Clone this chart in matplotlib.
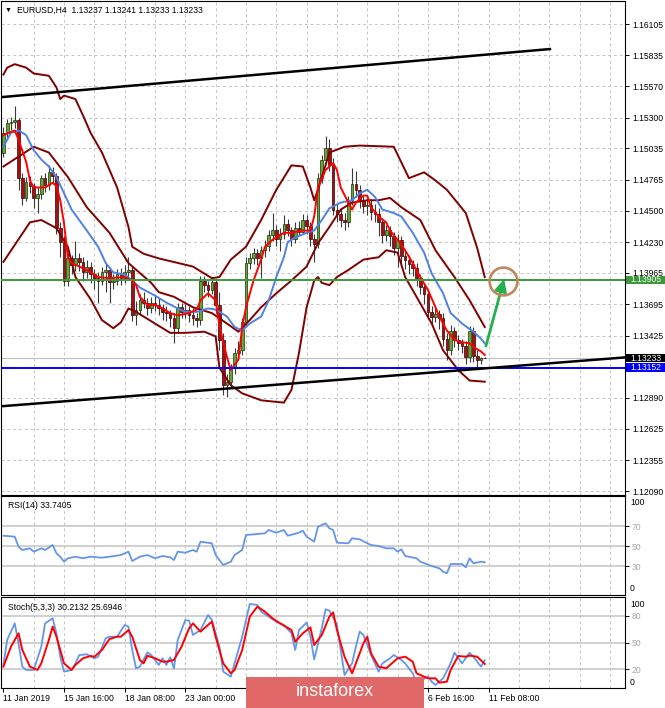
import numpy as np
import matplotlib
matplotlib.use('Agg')
import matplotlib.pyplot as plt
from matplotlib.patches import Rectangle
from matplotlib.transforms import blended_transform_factory

plt.rcParams['font.family'] = ['Liberation Sans', 'DejaVu Sans']

# ---------------- data (EURUSD H4) ----------------
first_open = 1.1500
closes = [
    1.1517, 1.1525, 1.1526, 1.1528, 1.1478, 1.1461, 1.1475, 1.1471, 1.1461, 1.1464,
    1.1478, 1.1472, 1.1483, 1.1480, 1.1435, 1.1423, 1.1390, 1.1409, 1.1403, 1.1409,
    1.1406, 1.1397, 1.1402, 1.1396, 1.1392, 1.1390, 1.1397, 1.1399, 1.1389, 1.1390,
    1.1396, 1.1392, 1.1397, 1.1399, 1.1360, 1.1365, 1.1373, 1.1371, 1.1366, 1.1371,
    1.1369, 1.1366, 1.1363, 1.1362, 1.1358, 1.1349, 1.1367, 1.1363, 1.1365, 1.1360,
    1.1358, 1.1356, 1.1390, 1.1386, 1.1382, 1.1389, 1.1369, 1.1339, 1.1300, 1.1303,
    1.1315, 1.1328, 1.1330, 1.1354, 1.1405, 1.1409, 1.1414, 1.1409, 1.1416, 1.1420,
    1.1429, 1.1433, 1.1426, 1.1430, 1.1439, 1.1433, 1.1426, 1.1435, 1.1432, 1.1442,
    1.1437, 1.1426, 1.1421, 1.1478, 1.1494, 1.1504, 1.1489, 1.1451, 1.1447, 1.1442,
    1.1440, 1.1459, 1.1473, 1.1468, 1.1459, 1.1454, 1.1455, 1.1449, 1.1447, 1.1440,
    1.1429, 1.1433, 1.1428, 1.1418, 1.1425, 1.1411, 1.1408, 1.1404, 1.1401, 1.1392,
    1.1384, 1.1378, 1.1363, 1.1359, 1.1361, 1.1358, 1.1340, 1.1330, 1.1347, 1.1339,
    1.1336, 1.1334, 1.1324, 1.1347, 1.1325, 1.1322, 1.13237, 1.13233]
highs = [
    1.1522, 1.1529, 1.1531, 1.1540, 1.1530, 1.1482, 1.1479, 1.1480, 1.1474, 1.1470,
    1.1481, 1.1482, 1.1489, 1.1488, 1.1482, 1.1440, 1.1428, 1.1414, 1.1412, 1.1424,
    1.1414, 1.1410, 1.1408, 1.1406, 1.1400, 1.1397, 1.1402, 1.1405, 1.1402, 1.1396,
    1.1400, 1.1401, 1.1403, 1.1410, 1.1402, 1.1372, 1.1378, 1.1380, 1.1375, 1.1376,
    1.1377, 1.1375, 1.1370, 1.1368, 1.1365, 1.1362, 1.1371, 1.1371, 1.1370, 1.1368,
    1.1366, 1.1362, 1.1394, 1.1394, 1.1390, 1.1393, 1.1391, 1.1380, 1.1345, 1.1310,
    1.1318, 1.1332, 1.1338, 1.1358, 1.1410, 1.1414, 1.1418, 1.1417, 1.1420, 1.1425,
    1.1433, 1.1448, 1.1438, 1.1435, 1.1446, 1.1443, 1.1436, 1.1440, 1.1441, 1.1447,
    1.1446, 1.1440, 1.1430, 1.1482, 1.1498, 1.1514, 1.1512, 1.1495, 1.1456, 1.1452,
    1.1448, 1.1463, 1.1487, 1.1484, 1.1472, 1.1463, 1.1462, 1.1460, 1.1456, 1.1452,
    1.1444, 1.1438, 1.1437, 1.1432, 1.1430, 1.1428, 1.1416, 1.1412, 1.1408, 1.1405,
    1.1396, 1.1388, 1.1382, 1.1368, 1.1366, 1.1365, 1.1362, 1.1345, 1.1352, 1.1350,
    1.1343, 1.1340, 1.1338, 1.1351, 1.1350, 1.1330, 1.13245, 1.13241]
lows = [
    1.1496, 1.1512, 1.1519, 1.1521, 1.1468, 1.1455, 1.1458, 1.1465, 1.1452, 1.1448,
    1.1460, 1.1466, 1.1468, 1.1474, 1.1430, 1.1410, 1.1385, 1.1385, 1.1396, 1.1398,
    1.1398, 1.1390, 1.1392, 1.1388, 1.1383, 1.1371, 1.1386, 1.1380, 1.1371, 1.1383,
    1.1386, 1.1386, 1.1388, 1.1392, 1.1355, 1.1352, 1.1360, 1.1366, 1.1360, 1.1362,
    1.1364, 1.1360, 1.1356, 1.1355, 1.1350, 1.1336, 1.1345, 1.1358, 1.1358, 1.1354,
    1.1352, 1.1350, 1.1352, 1.1380, 1.1376, 1.1378, 1.1362, 1.1330, 1.1292, 1.1290,
    1.1298, 1.1310, 1.1322, 1.1326, 1.1350, 1.1400, 1.1404, 1.1403, 1.1392, 1.1410,
    1.1415, 1.1424, 1.1420, 1.1415, 1.1426, 1.1428, 1.1420, 1.1422, 1.1428, 1.1431,
    1.1430, 1.1420, 1.1406, 1.1418, 1.1474, 1.1490, 1.1484, 1.1446, 1.1440, 1.1436,
    1.1433, 1.1436, 1.1455, 1.1462, 1.1452, 1.1448, 1.1446, 1.1442, 1.1440, 1.1428,
    1.1422, 1.1424, 1.1420, 1.1412, 1.1402, 1.1405, 1.1400, 1.1396, 1.1394, 1.1385,
    1.1378, 1.1370, 1.1357, 1.1352, 1.1354, 1.1348, 1.1334, 1.1322, 1.1326, 1.1333,
    1.1330, 1.1328, 1.1318, 1.1320, 1.1320, 1.1315, 1.1318, 1.13233]

# dark red bands (bar index, price)
band_top = [(0, 1.1567), (1, 1.1573), (3, 1.1576), (6, 1.1573), (8, 1.1568), (12, 1.1566),
            (14, 1.1556), (15, 1.1546), (16, 1.1549), (19, 1.1546), (21, 1.1532), (23, 1.1517),
            (26, 1.1500), (30, 1.1470), (33, 1.1436), (34, 1.1419), (37, 1.1413), (41, 1.1409),
            (50, 1.1402), (55, 1.1392), (57, 1.1393), (60, 1.1408), (64, 1.1419), (68, 1.1442),
            (72, 1.1468), (76, 1.1489), (79, 1.1488), (81, 1.1470), (82, 1.1459), (83, 1.1468),
            (86, 1.1500), (90, 1.1505), (94, 1.1506), (103, 1.1505), (107, 1.1478), (111, 1.1483),
            (114, 1.1476), (117, 1.1468), (122, 1.1448), (125, 1.1418), (127, 1.1393)]
band_mid = [(0, 1.1488), (8, 1.1505), (12, 1.1500), (17, 1.1479), (22, 1.1453), (28, 1.1431),
            (33, 1.1405), (39, 1.1388), (41, 1.1380), (45, 1.1376), (50, 1.1367), (55, 1.1362),
            (59, 1.1353), (62, 1.1346), (65, 1.1356), (68, 1.1367), (72, 1.1379), (76, 1.1390),
            (80, 1.1402), (83, 1.1422), (86, 1.1436), (89, 1.1451), (92, 1.1457), (96, 1.1459),
            (99, 1.1459), (102, 1.1461), (105, 1.1453), (110, 1.1442), (114, 1.1416), (119, 1.1393),
            (123, 1.1373), (127, 1.1350)]
band_low = [(0, 1.1406), (7, 1.1440), (10, 1.1442), (14, 1.1435), (17, 1.1419), (19, 1.1393),
            (23, 1.1374), (26, 1.1356), (29, 1.1349), (31, 1.1354), (33, 1.1366), (35, 1.1363),
            (40, 1.1353), (44, 1.1345), (48, 1.1345), (53, 1.1346), (56, 1.1342), (57, 1.1315),
            (60, 1.1300), (63, 1.1293), (68, 1.1287), (74, 1.1285), (76, 1.1296), (78, 1.1328),
            (80, 1.1367), (82, 1.1390), (83, 1.1393), (84, 1.1388), (86, 1.1386), (88, 1.1393),
            (91, 1.1399), (95, 1.1408), (99, 1.1410), (101, 1.1416), (104, 1.1414), (106, 1.1393),
            (109, 1.1376), (113, 1.1353), (116, 1.1330), (120, 1.1313), (123, 1.1304), (127, 1.1303)]

ma_fast = [(0, 1.1515), (3, 1.1519), (4, 1.1511), (6, 1.1492), (7, 1.1476), (8, 1.1470), (11, 1.1470),
           (13, 1.1474), (14, 1.1471), (15, 1.1459), (16, 1.1439), (17, 1.1410), (18, 1.1405),
           (20, 1.1402), (22, 1.1399), (25, 1.1393), (28, 1.1392), (32, 1.1393), (34, 1.1390),
           (35, 1.1386), (36, 1.1376), (38, 1.1369), (40, 1.1369), (42, 1.1366), (44, 1.1362),
           (46, 1.1360), (49, 1.1362), (51, 1.1365), (52, 1.1373), (54, 1.1379), (56, 1.1373),
           (57, 1.1351), (59, 1.1324), (60, 1.1313), (62, 1.1322), (63, 1.1350), (64, 1.1367),
           (66, 1.1390), (68, 1.1408), (69, 1.1419), (71, 1.1425), (74, 1.1431), (76, 1.1431),
           (79, 1.1433), (81, 1.1433), (82, 1.1445), (83, 1.1470), (85, 1.1485), (87, 1.1491),
           (88, 1.1485), (89, 1.1470), (91, 1.1457), (92, 1.1451), (93, 1.1457), (95, 1.1463),
           (96, 1.1463), (97, 1.1453), (99, 1.1445), (101, 1.1440), (102, 1.1433), (104, 1.1425),
           (106, 1.1416), (108, 1.1405), (110, 1.1393), (112, 1.1382), (114, 1.1367), (115, 1.1359),
           (117, 1.1347), (119, 1.1339), (121, 1.1337), (123, 1.1336), (124, 1.1333), (126, 1.1329),
           (127, 1.1326)]
ma_slow = [(0, 1.1505), (2, 1.1517), (4, 1.1519), (6, 1.1515), (8, 1.1502), (10, 1.1494), (12, 1.1488),
           (14, 1.1479), (16, 1.1465), (18, 1.1451), (22, 1.1433), (25, 1.1419), (27, 1.1405),
           (29, 1.1397), (32, 1.1395), (34, 1.1390), (36, 1.1384), (40, 1.1377), (43, 1.1371),
           (46, 1.1366), (48, 1.1363), (51, 1.1363), (54, 1.1366), (56, 1.1365), (59, 1.1359),
           (61, 1.1350), (63, 1.1347), (65, 1.1353), (68, 1.1359), (70, 1.1373), (72, 1.1393),
           (74, 1.1410), (75, 1.1423), (77, 1.1427), (80, 1.1431), (82, 1.1433), (84, 1.1442),
           (86, 1.1452), (89, 1.1457), (92, 1.1459), (94, 1.1465), (96, 1.1468), (98, 1.1462),
           (100, 1.1451), (103, 1.1448), (105, 1.1445), (108, 1.1431), (111, 1.1414), (113, 1.1396),
           (116, 1.1379), (118, 1.1362), (121, 1.1353), (124, 1.1346), (126, 1.1340), (127, 1.1336)]

trend_upper = [(-0.4, 1.15477), (144.2, 1.15890)]
trend_lower = [(-0.9, 1.12818), (164.0, 1.13239)]
level_green = 1.13905
level_blue = 1.13152
last_price = 1.13233
arrow_from = (127.3, 1.13336)
arrow_to = (132.1, 1.13912)
target = (131.8, 1.13897)

price_ticks = [1.16105, 1.15835, 1.15570, 1.15300, 1.15035, 1.14765, 1.14500, 1.14230,
               1.13965, 1.13695, 1.13425, 1.13155, 1.12890, 1.12625, 1.12355, 1.12090]
hidden_ticks = [1.13155]   # sits under the blue price box

rsi = [(0, 60.3), (3, 59.3), (4, 49.3), (5, 46.0), (7, 47.7), (8, 44.3), (10, 47.7), (11, 46.0),
       (13, 51.0), (14, 42.7), (15, 39.3), (16, 34.3), (17, 37.7), (19, 39.3), (21, 37.7),
       (23, 39.3), (26, 38.3), (28, 39.3), (31, 41.0), (33, 44.3), (34, 35.0), (36, 39.3),
       (38, 41.0), (40, 37.7), (42, 40.0), (44, 38.7), (45, 36.0), (46, 44.3), (48, 43.3),
       (50, 46.0), (51, 44.3), (52, 54.3), (55, 52.7), (56, 41.0), (58, 31.0), (60, 34.3),
       (61, 41.0), (63, 46.0), (64, 61.0), (67, 62.0), (69, 62.7), (70, 66.0), (72, 63.3),
       (74, 66.0), (75, 60.3), (78, 63.3), (79, 65.3), (80, 59.3), (82, 54.3), (83, 69.3),
       (85, 72.7), (86, 67.7), (87, 66.0), (88, 53.3), (91, 52.7), (92, 57.7), (94, 56.7),
       (96, 52.7), (97, 51.0), (99, 50.0), (101, 47.7), (103, 47.7), (104, 44.3), (105, 46.7),
       (106, 40.0), (109, 37.7), (110, 34.3), (113, 30.0), (115, 27.7), (116, 24.3), (117, 22.7),
       (118, 32.0), (121, 32.0), (122, 28.7), (123, 37.7), (124, 32.7), (126, 34.3), (127, 33.7)]
stoch_main = [(0, 24.9), (1, 53.0), (3, 71.7), (4, 49.0), (5, 23.0), (6, 19.3), (8, 19.3), (10, 45.5),
              (11, 71.7), (13, 77.4), (14, 60.5), (15, 34.2), (16, 17.4), (18, 19.2), (19, 26.7),
              (20, 36.0), (22, 36.9), (24, 32.4), (25, 34.2), (27, 54.9), (28, 56.7), (30, 56.7),
              (32, 69.9), (33, 68.0), (34, 41.7), (35, 21.1), (36, 23.0), (38, 39.1), (39, 36.1),
              (41, 24.9), (42, 32.4), (43, 24.9), (44, 33.5), (45, 21.1), (46, 53.0), (48, 75.5),
              (49, 74.7), (50, 58.6), (52, 64.2), (54, 81.1), (55, 75.5), (57, 45.5), (58, 17.4),
              (60, 11.7), (61, 26.7), (63, 56.7), (65, 93.5), (67, 92.4), (68, 84.9), (70, 79.2),
              (72, 73.6), (74, 69.9), (76, 60.5), (77, 41.7), (78, 64.2), (80, 72.6), (81, 56.7),
              (82, 31.2), (84, 66.1), (85, 87.5), (86, 86.0), (88, 69.9), (89, 41.7), (90, 13.6),
              (92, 26.7), (93, 45.5), (94, 62.4), (95, 58.6), (97, 36.1), (99, 17.4), (100, 26.7),
              (102, 32.4), (103, 36.1), (105, 30.5), (106, 26.7), (108, 15.5), (109, 4.3),
              (112, 11.7), (113, 6.1), (114, 2.4), (116, 9.9), (118, 26.7), (119, 38.7),
              (121, 26.7), (123, 38.7), (124, 34.2), (126, 23.0), (127, 30.2)]
stoch_signal = [(0, 23.0), (2, 45.5), (4, 60.5), (5, 41.7), (7, 23.0), (9, 19.3), (10, 26.7), (12, 53.0),
                (13, 68.0), (14, 56.7), (16, 26.7), (18, 19.3), (19, 24.9), (21, 32.4), (23, 35.0),
                (24, 34.2), (26, 41.7), (28, 54.1), (30, 56.7), (31, 56.7), (33, 64.2), (34, 56.7),
                (36, 30.5), (37, 26.7), (38, 35.4), (40, 32.4), (42, 28.6), (43, 28.6), (45, 30.5),
                (47, 45.5), (49, 66.1), (50, 71.7), (52, 62.4), (54, 69.9), (55, 73.6), (56, 56.7),
                (58, 26.7), (60, 15.5), (61, 19.3), (63, 41.7), (65, 79.2), (67, 90.5), (69, 84.9),
                (71, 77.4), (73, 71.7), (76, 64.2), (77, 51.1), (79, 60.5), (81, 67.2), (82, 47.3),
                (84, 58.6), (86, 79.2), (87, 84.1), (88, 64.2), (90, 34.2), (92, 15.5), (93, 26.7),
                (95, 49.4), (96, 56.7), (97, 38.0), (99, 23.0), (101, 21.1), (103, 28.6), (104, 32.4),
                (106, 34.2), (108, 28.6), (109, 15.5), (112, 9.9), (114, 9.9), (115, 5.0), (117, 6.1),
                (118, 19.3), (120, 35.0), (122, 34.2), (123, 35.4), (125, 34.2), (127, 26.0)]

# labels 25 Jan / 30 Jan / 4 Feb sit under the watermark, so they stay blank
date_pos = [0, 16, 32, 48, 64, 80, 96, 112, 128]
date_labels = ['11 Jan 2019', '15 Jan 16:00', '18 Jan 08:00', '23 Jan 00:00', '',
               '', '', '6 Feb 16:00', '11 Feb 08:00']

# ---------------- figure ----------------
W, H = 665, 708
fig = plt.figure(figsize=(W / 100, H / 100), dpi=100)


def add_panel(top, bottom):
    # pixel rows of the screenshot -> figure fractions
    return fig.add_axes([1 / W, 1 - bottom / H, 624 / W, (bottom - top) / H])


ax = add_panel(1, 495)
ax_rsi = add_panel(496, 594.5)
ax_st = add_panel(597.3, 688.3)

FS = 6.2
grid_kw = dict(color='#c4c4c4', lw=0.7, ls=(0, (3, 3)))
for a in (ax, ax_rsi, ax_st):
    a.set_xlim(-0.63, 164.0)
    a.xaxis.remove_overlapping_locs = False
    a.set_xticks(np.arange(8, 164, 8), minor=True)
    a.grid(which='minor', axis='x', **grid_kw)
    a.tick_params(axis='x', which='minor', length=0)
    a.yaxis.tick_right()
    a.tick_params(axis='y', length=3, width=0.7, pad=2, labelsize=FS)
    for s in a.spines.values():
        s.set_linewidth(0.8)
for a in (ax, ax_rsi):
    a.set_xticks([])

# main price panel
ax.set_ylim(1.12056, 1.16303)
ax.set_yticks(price_ticks)
ax.set_yticklabels(['' if p in hidden_ticks else f'{p:.5f}' for p in price_ticks])
ax.grid(which='major', axis='y', **grid_kw)

idx = np.arange(len(closes))
c = np.array(closes)
o = np.array([first_open] + closes[:-1])
up = c >= o
body_lo = np.minimum(o, c)
body_h = np.maximum(np.abs(c - o), 0.00003)
ax.vlines(idx, lows, highs, color='#3a3a3a', lw=0.8, zorder=2)
ax.bar(idx[up], body_h[up], bottom=body_lo[up], width=0.7, color='#62a82c',
       edgecolor='#1c3010', lw=0.5, zorder=3)
ax.bar(idx[~up], body_h[~up], bottom=body_lo[~up], width=0.7, color='#a31212',
       edgecolor='#3c0000', lw=0.5, zorder=3)

for band in (band_top, band_mid, band_low):
    bx, by = zip(*band)
    ax.plot(bx, by, color='#800000', lw=1.4, zorder=4)
ax.plot(*zip(*ma_slow), color='#4f80e8', lw=1.4, zorder=5)
ax.plot(*zip(*ma_fast), color='#ff0000', lw=1.4, zorder=6)

ax.axhline(last_price, color='#c0c0c0', lw=0.8, zorder=1.5)
ax.axhline(level_green, color='#3a9a3a', lw=1.4, zorder=6)
ax.axhline(level_blue, color='#0000ff', lw=1.4, zorder=6)
ax.plot(*zip(*trend_upper), color='black', lw=1.8, zorder=7)
ax.plot(*zip(*trend_lower), color='black', lw=1.8, zorder=7)

ax.annotate('', xy=arrow_to, xytext=arrow_from,
            arrowprops=dict(arrowstyle='-|>,head_length=0.7,head_width=0.35',
                            color='#22b14c', lw=2.0, shrinkA=0, shrinkB=0), zorder=8)
ax.plot([target[0]], [target[1]], marker='o', ms=20, mfc='none', mec='#c0875f', mew=1.9, zorder=8)

tr = blended_transform_factory(ax.transAxes, ax.transData)
box_h = 8.6 * (1.16303 - 1.12056) / 494
for val, fc in [(level_green, '#3a9a3a'), (last_price, 'black'), (level_blue, '#0000ff')]:
    ax.add_patch(Rectangle((1 + 1 / 624, val - box_h / 2), 39 / 624, box_h, transform=tr,
                           fc=fc, ec='none', clip_on=False, zorder=10))
    ax.text(1 + 5 / 624, val, f'{val:.5f}', transform=tr, ha='left', va='center',
            color='white', fontsize=FS, zorder=11, clip_on=False)

# RSI panel
ax_rsi.set_ylim(1.5, 100)
for lv in (70, 50, 30):
    ax_rsi.axhline(lv, color='#c8c8c8', lw=1.2, zorder=1)
ax_rsi.plot(*zip(*rsi), color='#6495ed', lw=1.3, zorder=3)
ax_rsi.set_yticks([70, 50, 30])
ax_rsi.tick_params(axis='y', labelcolor='#a8a8a8')
ax_rsi.text(1 + 5 / 624, 0.929, '100', transform=ax_rsi.transAxes, fontsize=FS, va='center')
ax_rsi.text(1 + 5 / 624, 0.056, '0', transform=ax_rsi.transAxes, fontsize=FS, va='center')

# Stochastic panel
ax_st.set_ylim(-1.35, 101)
for lv in (80, 50, 20):
    ax_st.axhline(lv, color='#c8c8c8', lw=1.2, zorder=1)
ax_st.plot(*zip(*stoch_main), color='#6495ed', lw=1.3, zorder=3)
ax_st.plot(*zip(*stoch_signal), color='#ff0000', lw=1.4, zorder=4)
ax_st.set_yticks([80, 50, 20])
ax_st.tick_params(axis='y', labelcolor='#a8a8a8')
ax_st.text(1 + 5 / 624, 0.926, '100', transform=ax_st.transAxes, fontsize=FS, va='center')
ax_st.text(1 + 5 / 624, 0.069, '0', transform=ax_st.transAxes, fontsize=FS, va='center')
ax_st.set_xticks(date_pos)
ax_st.set_xticklabels(date_labels, ha='left')
ax_st.tick_params(axis='x', which='major', length=3, width=0.7, pad=1, labelsize=FS)

# panel captions
fig.text(8.5 / W, 1 - 10 / H, '▼', fontsize=5, ha='center', va='center')
fig.text(17 / W, 1 - 10 / H, 'EURUSD,H4  1.13237 1.13241 1.13233 1.13233',
         fontsize=FS, va='center')
fig.text(7.7 / W, 1 - 505 / H, 'RSI(14) 33.7405', fontsize=FS, va='center')
fig.text(7.7 / W, 1 - 607 / H, 'Stoch(5,3,3) 30.2132 25.6946', fontsize=FS, va='center')

# watermark
fig.add_artist(Rectangle((246 / W, 0), 178 / W, 31 / H, transform=fig.transFigure,
                         fc='#e06868', ec='none', zorder=20))
fig.text(335 / W, 1 - 691 / H, 'instaforex', color='white', fontsize=13,
         ha='center', va='center', zorder=21)

fig.savefig('out.png', dpi=100)
